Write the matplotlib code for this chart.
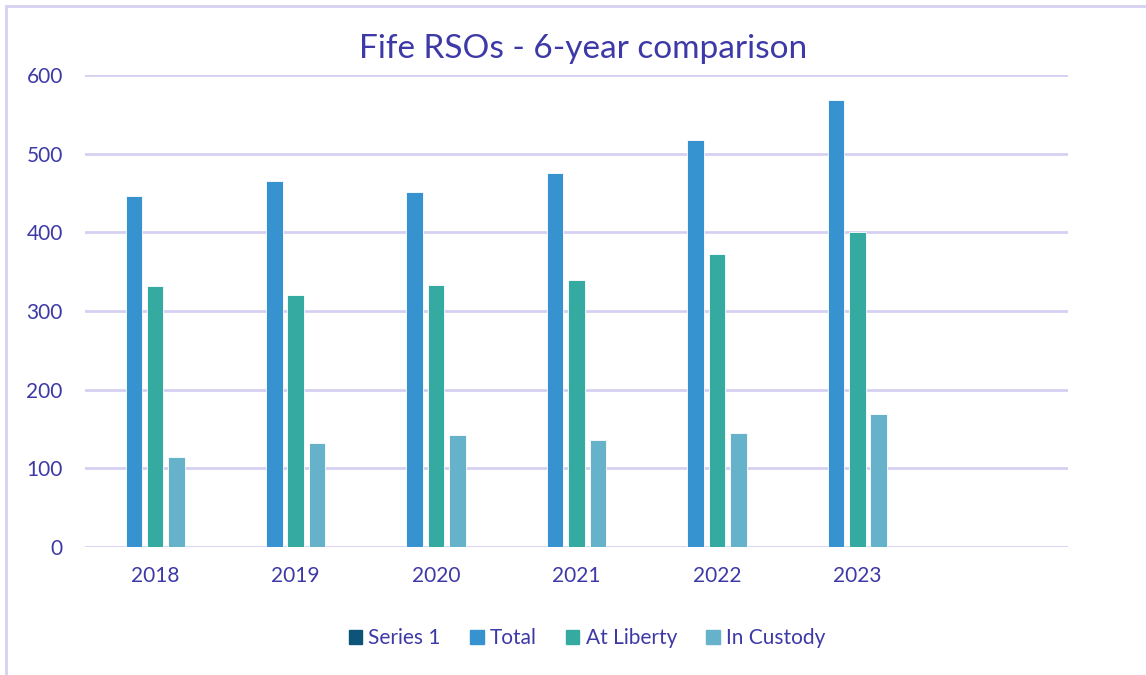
import numpy as np
import matplotlib.pyplot as plt
from matplotlib.patches import Patch, Rectangle

#   Chart data
years = ['2018', '2019', '2020', '2021', '2022', '2023', '']
series1 = [0, 0, 0, 0, 0, 0]
total = [446, 465, 451, 476, 517, 568]
atLiberty = [332, 320, 333, 340, 372, 400]
inCustody = [114, 132, 143, 136, 145, 169]

textColor = '#3D39A6'
gridColor = '#D5D0F2'
colS1 = '#0E5479'
colTotal = '#3793D0'
colLib = '#35AAA1'
colCust = '#67B2CB'

plt.rcParams['font.family'] = ['Lato', 'DejaVu Sans']

fig = plt.figure(figsize=(11.46, 6.75), dpi=100)
ax = fig.add_axes([85/1146, 1-547/675, (1068-85)/1146, (547-75)/675])

#   Border of the chart area
fig.patches.append(Rectangle((6/1146, -0.1), 1.2, 1-6/675+0.1, transform=fig.transFigure,
                             fill=False, edgecolor=gridColor, linewidth=2))

x = np.arange(len(total))
barW = 0.118
step = 0.152
ax.bar(x - step, total, barW, color=colTotal, edgecolor='white', linewidth=0.6, zorder=3)
ax.bar(x, atLiberty, barW, color=colLib, edgecolor='white', linewidth=0.6, zorder=3)
ax.bar(x + step, inCustody, barW, color=colCust, edgecolor='white', linewidth=0.6, zorder=3)

ax.set_xlim(-0.5, len(years) - 0.5)
ax.set_ylim(0, 600)
ax.set_yticks(range(0, 601, 100))
ax.set_xticks(range(len(years)))
ax.set_xticklabels(years)
ax.yaxis.grid(True, color=gridColor, linewidth=2, zorder=0)
ax.set_axisbelow(True)
for s in ax.spines.values():
    s.set_visible(False)
ax.tick_params(length=0, labelsize=15, colors=textColor)
ax.tick_params(axis='y', pad=16)
ax.tick_params(axis='x', pad=14)

fig.text(583/1146, 1-49/675, 'Fife RSOs - 6-year comparison', ha='center', va='center',
         fontsize=24, color=textColor)

handles = [Patch(color=colS1), Patch(color=colTotal), Patch(color=colLib), Patch(color=colCust)]
labels = ['Series 1', 'Total', 'At Liberty', 'In Custody']
fig.legend(handles, labels, loc='center', bbox_to_anchor=(587/1146, 1-638/675), ncol=4,
           frameon=False, fontsize=15, labelcolor=textColor, handlelength=0.65,
           handleheight=0.65, handletextpad=0.3, columnspacing=1.4)

fig.savefig('out.png', dpi=100)
